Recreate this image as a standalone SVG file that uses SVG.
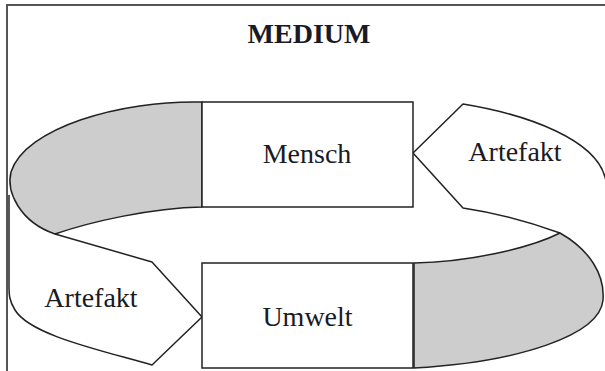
<svg xmlns="http://www.w3.org/2000/svg" width="605" height="371" viewBox="0 0 605 371">
<style>
.ln{fill:none;stroke:#222;stroke-width:1.5;stroke-linejoin:round}
.band{fill:#cdcdcd;stroke:#222;stroke-width:1.5;stroke-linejoin:round}
.box{fill:#fff;stroke:#222;stroke-width:1.5}
.t{font-family:"Liberation Serif","Times New Roman",serif;font-size:28px;fill:#1a1a24;text-anchor:middle}
</style>
<rect x="0" y="0" width="605" height="371" fill="#fff"/>
<rect x="7" y="5" width="640" height="420" fill="none" stroke="#555" stroke-width="2"/>
<g id="title"><text class="t" x="309" y="43" font-weight="bold" font-size="31">MEDIUM</text></g>
<g id="band-left">
<path class="band" d="M202,102 C120,100 25,128 11,172 C6,192 20,222 55,234 C90,222 150,208 202,207 Z"/>
</g>
<g id="band-right">
<path class="band" d="M414,263 C470,262 530,248 560,233 C590,250 605,275 603,300 C600,335 520,362 414,368 Z"/>
</g>
<g id="artefakt-left">
<path class="ln" d="M55,234 L152,262 L202,317 L152,365 C100,350 30,335 15,310 C9,300 9,295 9,285 L9,195"/>
<text class="t" x="91" y="307">Artefakt</text>
</g>
<g id="artefakt-right">
<path class="ln" d="M608,195 C607,185 606,180 605,177 C595,140 530,115 463,104 L413,153 L463,208 Q510,215 560,233"/>
<text class="t" x="515" y="161">Artefakt</text>
</g>
<g id="mensch">
<rect class="box" x="202" y="102" width="211" height="105"/>
<text class="t" x="307" y="163">Mensch</text>
</g>
<g id="umwelt">
<rect class="box" x="202" y="263" width="211" height="105"/>
<text class="t" x="307.5" y="326">Umwelt</text>
</g>
</svg>
